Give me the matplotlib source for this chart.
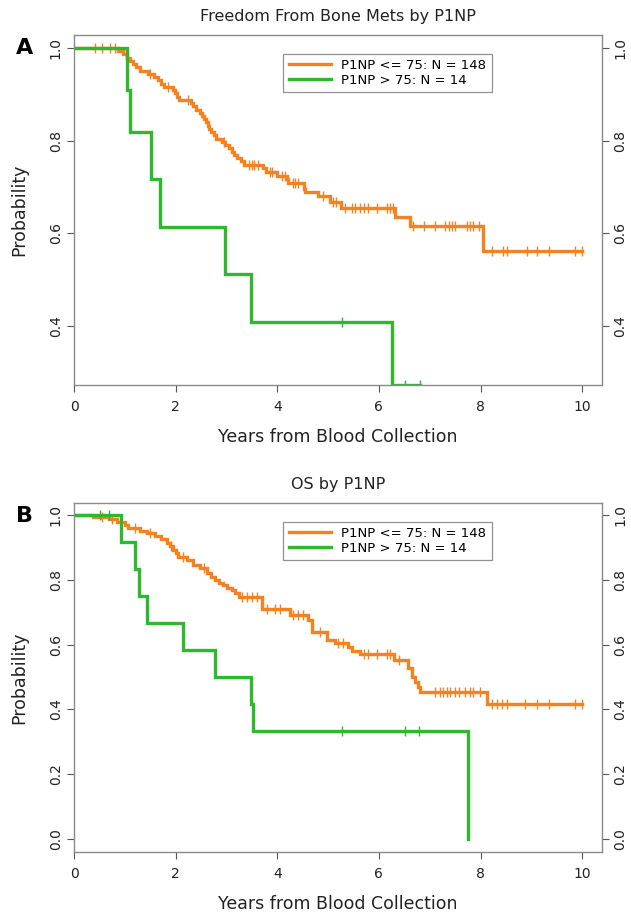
import numpy as np
import matplotlib
matplotlib.use("Agg")
from matplotlib import pyplot as plt

# colori delle due curve
arancio = "#F5821F"
verde = "#2DB82D"

# ---- pannello A: Freedom From Bone Mets ----
a_low_t = [0.87, 0.97, 1.05, 1.10, 1.17, 1.22, 1.30, 1.45, 1.58, 1.65, 1.72, 1.78,
           1.95, 1.98, 2.02, 2.07, 2.30, 2.35, 2.40, 2.48, 2.52, 2.56, 2.60, 2.63,
           2.66, 2.70, 2.75, 2.80, 2.92, 2.98, 3.05, 3.10, 3.14, 3.20, 3.28, 3.35,
           3.72, 3.78, 4.00, 4.20, 4.22, 4.52, 4.55, 4.80, 5.03, 5.25, 6.32, 6.61, 8.04]
a_low_s = [0.993, 0.986, 0.979, 0.972, 0.965, 0.958, 0.951, 0.944, 0.937, 0.930, 0.923, 0.916,
           0.909, 0.902, 0.895, 0.888, 0.881, 0.874, 0.867, 0.860, 0.853, 0.846, 0.839, 0.832,
           0.825, 0.818, 0.811, 0.804, 0.797, 0.790, 0.783, 0.776, 0.769, 0.762, 0.755, 0.748,
           0.740, 0.732, 0.724, 0.716, 0.708, 0.696, 0.688, 0.680, 0.668, 0.654, 0.635, 0.615, 0.561]
a_low_end = 9.99
a_low_cens = [0.41, 0.55, 0.70, 0.80, 1.02, 1.50, 1.85, 2.25, 2.95, 3.45, 3.50, 3.55, 3.62,
              3.85, 3.90, 4.10, 4.15, 4.30, 4.35, 4.40, 4.90, 5.10, 5.15,
              5.33, 5.47, 5.53, 5.63, 5.70, 5.79, 5.96, 6.15, 6.22, 6.28,
              6.68, 6.88, 7.11, 7.30, 7.37, 7.43, 7.50, 7.73, 7.80, 7.86, 7.96,
              8.22, 8.45, 8.52, 8.91, 9.11, 9.34, 9.86, 9.99]

a_high_t = [1.04, 1.10, 1.51, 1.69, 2.98, 3.49, 6.25]
a_high_s = [0.909, 0.818, 0.716, 0.614, 0.511, 0.409, 0.273]
a_high_end = 6.81
a_high_cens = [5.27, 6.52, 6.81]

# ---- pannello B: OS ----
b_low_t = [0.38, 0.68, 0.84, 1.00, 1.07, 1.30, 1.43, 1.59, 1.72, 1.82, 1.88, 1.95, 2.00,
           2.05, 2.22, 2.35, 2.48, 2.61, 2.70, 2.78, 2.86, 2.94, 3.02, 3.10, 3.17, 3.24,
           3.69, 4.25, 4.61, 4.68, 4.97, 5.14, 5.40, 5.47, 5.63, 6.29, 6.58, 6.65,
           6.71, 6.76, 6.81, 8.12]
b_low_s = [0.993, 0.987, 0.979, 0.969, 0.959, 0.952, 0.944, 0.935, 0.925, 0.913, 0.903, 0.892, 0.882,
           0.871, 0.861, 0.846, 0.835, 0.820, 0.810, 0.799, 0.791, 0.784, 0.776, 0.769, 0.758, 0.748,
           0.710, 0.691, 0.676, 0.640, 0.614, 0.606, 0.594, 0.581, 0.571, 0.552, 0.527, 0.501,
           0.486, 0.470, 0.455, 0.417]
b_low_end = 9.99
b_low_cens = [0.55, 0.75, 1.20, 1.50, 1.90, 2.15, 2.55, 3.30, 3.40, 3.50, 3.60, 3.80, 3.95,
              4.05, 4.30, 4.40, 4.50, 4.85, 5.20, 5.30, 5.70, 5.79, 5.96, 6.15, 6.22,
              6.40, 7.11, 7.20, 7.27, 7.34, 7.40, 7.50, 7.57, 7.70, 7.80, 7.86, 7.99,
              8.22, 8.32, 8.42, 8.52, 8.88, 9.11, 9.34, 9.86, 9.99]

b_high_t = [0.93, 1.20, 1.27, 1.43, 2.15, 2.78, 3.48, 3.52, 7.76]
b_high_s = [0.917, 0.833, 0.750, 0.667, 0.583, 0.500, 0.417, 0.333, 0.0]
b_high_end = 7.76
b_high_cens = [0.52, 0.69, 5.27, 6.52, 6.78]

legenda = ["P1NP <= 75: N = 148", "P1NP > 75: N = 14"]


def curva(ax, tempi, surv, fine, cens, colore):
    x = np.r_[0, tempi, fine]
    y = np.r_[1.0, surv, surv[-1]]
    linea, = ax.step(x, y, where="post", color=colore, lw=2.4, solid_joinstyle="miter")
    # i censurati stanno sulla curva
    idx = np.searchsorted(np.r_[0, tempi], cens, side="right") - 1
    yc = np.r_[1.0, surv][idx]
    ax.plot(cens, yc, ls="none", marker="|", ms=7, mew=1.0, color=colore)
    return linea


def pannello(ax, linee, titolo, lettera, ylim, yticks):
    ax.set_xlim(0, 10.39)
    ax.set_ylim(*ylim)
    ax.set_xticks([0, 2, 4, 6, 8, 10])
    ax.set_yticks(yticks)
    ax.set_yticklabels(["%.1f" % v for v in yticks])
    for s in ax.spines.values():
        s.set_color("#8a8a8a")
        s.set_linewidth(1.0)
    ax.tick_params(axis="both", direction="out", length=5, width=0.8, color="#555555",
                   labelsize=10, labelcolor="#222222")
    ax.tick_params(axis="y", right=True, labelright=True, pad=3)
    ax.tick_params(axis="x", pad=6)
    for lab in ax.get_yticklabels(which="both"):
        lab.set_rotation(90)
        lab.set_va("center")
    ax.set_title(titolo, fontsize=11.5, pad=10, color="#222222")
    ax.set_xlabel("Years from Blood Collection", fontsize=12.5, labelpad=10, color="#222222")
    ax.set_ylabel("Probability", fontsize=12.5, labelpad=15, color="#222222")
    ax.text(-0.093, 0.963, lettera, transform=ax.transAxes, fontsize=16,
            fontweight="bold", ha="center", va="center")
    leg = ax.legend(linee, legenda, loc="upper left", bbox_to_anchor=(0.384, 0.965),
                    fontsize=9.5, frameon=True, fancybox=False, handlelength=3.2,
                    borderpad=0.4, labelspacing=0.15, handletextpad=0.8)
    leg.get_frame().set_edgecolor("#777777")
    leg.get_frame().set_linewidth(0.9)


fig = plt.figure(figsize=(6.31, 9.16), dpi=100)
axA = fig.add_axes([0.1173, 0.5797, 0.8368, 0.3821])
axB = fig.add_axes([0.1173, 0.0699, 0.8368, 0.3813])

la = curva(axA, a_low_t, a_low_s, a_low_end, a_low_cens, arancio)
ha = curva(axA, a_high_t, a_high_s, a_high_end, a_high_cens, verde)
pannello(axA, [la, ha], "Freedom From Bone Mets by P1NP", "A", (0.272, 1.028), [0.4, 0.6, 0.8, 1.0])

lb = curva(axB, b_low_t, b_low_s, b_low_end, b_low_cens, arancio)
hb = curva(axB, b_high_t, b_high_s, b_high_end, b_high_cens, verde)
pannello(axB, [lb, hb], "OS by P1NP", "B", (-0.04, 1.038), [0.0, 0.2, 0.4, 0.6, 0.8, 1.0])

fig.savefig("out.png", dpi=100)
